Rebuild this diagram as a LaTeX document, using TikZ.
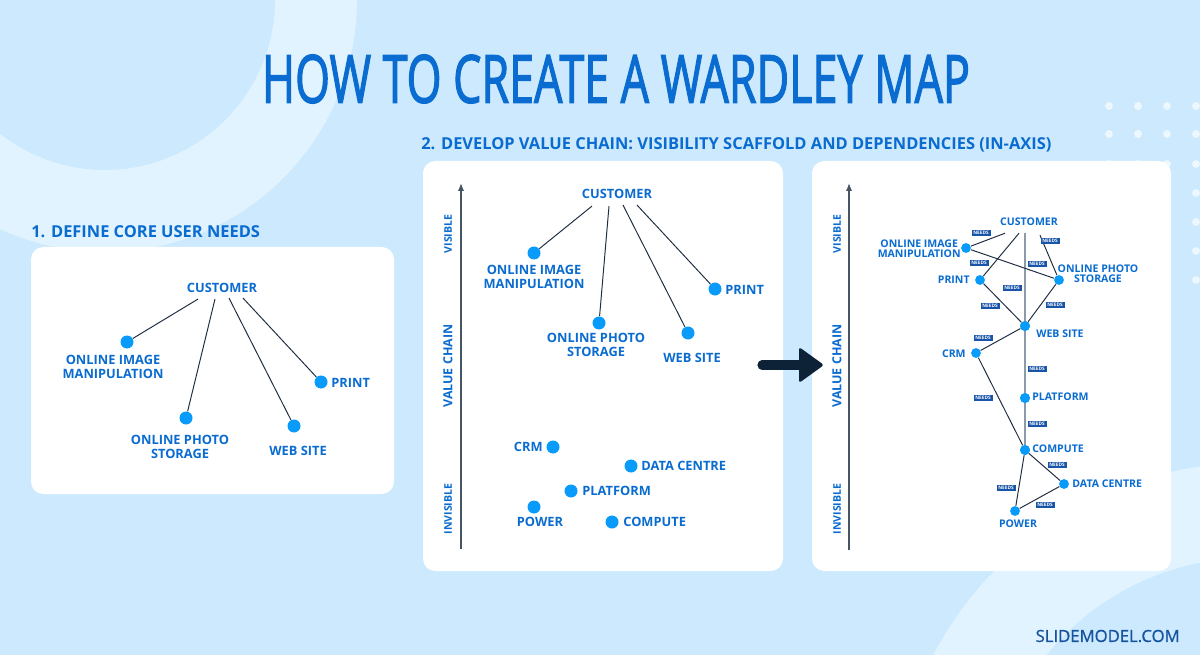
\documentclass[tikz,border=0pt]{standalone}
\usepackage{fontspec}
\setmainfont{Open Sans}
\newfontfamily\titlefont[FakeBold=2.2]{Open Sans}
\newfontfamily\sitefont[FakeBold=0.8]{Open Sans}
\usepackage{graphicx}
\usetikzlibrary{arrows.meta}

\definecolor{bgblue}{RGB}{204,233,253}
\definecolor{ringblue}{RGB}{225,243,254}
\definecolor{textblue}{RGB}{10,108,208}
\definecolor{dotblue}{RGB}{8,155,250}
\definecolor{linedark}{RGB}{30,45,65}
\definecolor{arrowdark}{RGB}{13,33,55}
\definecolor{needsblue}{RGB}{24,84,168}
\definecolor{axisgrey}{RGB}{70,85,100}
\definecolor{vgrey}{RGB}{140,155,170}
\definecolor{dotwhite}{RGB}{236,247,254}
\definecolor{siteblue}{RGB}{22,84,160}

\tikzset{
  dot/.style={circle, fill=dotblue, inner sep=0pt, minimum size=7.4pt},
  tinydot/.style={circle, fill=dotblue, inner sep=0pt, minimum size=5.6pt},
  lbl/.style={text=textblue, font=\bfseries\fontsize{7.3}{8}\selectfont, align=center, inner sep=0pt},
  tinylbl/.style={text=textblue, font=\bfseries\fontsize{6}{5.7}\selectfont, align=center, inner sep=0pt},
  axislbl/.style={text=textblue, font=\bfseries\fontsize{6}{6}\selectfont, rotate=90, inner sep=0pt},
  chainlbl/.style={axislbl, font=\bfseries\fontsize{7.1}{7}\selectfont},
  head/.style={text=textblue, font=\bfseries\fontsize{9.35}{10}\selectfont, inner sep=0pt, anchor=west},
  link/.style={draw=linedark, line width=0.55pt},
  inaxis/.style={draw=vgrey, line width=1.3pt},
  vaxis/.style={draw=axisgrey, line width=0.8pt, -{Latex[length=4.5pt,width=3.6pt]}},
  needs/.style={fill=needsblue, text=white,
    font=\bfseries\fontsize{2.7}{2.7}\selectfont, inner sep=0pt,
    minimum width=10.8pt, minimum height=3.8pt},
  panel/.style={fill=white, rounded corners=7pt},
}

\begin{document}
\begin{tikzpicture}[x=0.02cm, y=-0.02cm]
  \useasboundingbox (0,0) rectangle (1200,655);

  % Background with the two light rings
  \fill[bgblue] (0,0) rectangle (1200,655);
  \begin{scope}
    \clip (0,0) rectangle (1200,655);
    \fill[ringblue, even odd rule] (105,0) circle[radius=252] (105,0) circle[radius=170];
    \fill[ringblue, even odd rule] (1250,820) circle[radius=357] (1250,820) circle[radius=262];
  \end{scope}

  % Dot grid, top right
  \foreach \x in {1109,1138,1167,1196} {
    \foreach \y in {106,134,164,193,222,251,280} {
      \fill[dotwhite] (\x,\y) circle[radius=4];
    }
  }

  % Title and step headings
  \node[text=textblue, inner sep=0pt] (title) at (616,79)
    {\resizebox{14.16cm}{0.96cm}{\titlefont HOW TO CREATE A WARDLEY MAP}};
  \node[head] (head1) at (31,232) {1. DEFINE CORE USER NEEDS};
  \node[head] (head2) at (421,145) {2. DEVELOP VALUE CHAIN: VISIBILITY SCAFFOLD AND DEPENDENCIES (IN-AXIS)};

  % Panels
  \fill[panel] (31,247) rectangle (394,494);
  \fill[panel] (423,161) rectangle (783,571);
  \fill[panel] (812,161) rectangle (1171,571);

  % Step 1: core user needs
  \node[lbl] (cust1) at (222,288) {CUSTOMER};
  \node[dot] (oim1) at (127,342) {};
  \node[lbl] (oim1l) at (113,367) {ONLINE IMAGE\\MANIPULATION};
  \node[dot] (ops1) at (186,418) {};
  \node[lbl] (ops1l) at (180,447) {ONLINE PHOTO\\STORAGE};
  \node[dot] (web1) at (294,426) {};
  \node[lbl] (web1l) at (298,451) {WEB SITE};
  \node[dot] (prt1) at (321,382) {};
  \node[lbl, anchor=west] (prt1l) at (331,383) {PRINT};

  \draw[link] (cust1.south) ++(-24,6) -- (oim1);
  \draw[link] (cust1.south) ++(-7,6) -- (ops1);
  \draw[link] (cust1.south) ++(7,5) -- (web1);
  \draw[link] (cust1.south) ++(21,5) -- (prt1);

  % Step 2: value chain, components placed on the visibility axis
  \coordinate (ax2b) at (461,549);
  \coordinate (ax2t) at (461,183);
  \draw[vaxis] (ax2b) -- (ax2t);
  \node[axislbl] (vis2) at (448,234) {VISIBLE};
  \node[chainlbl] (chain2) at (448,366) {VALUE CHAIN};
  \node[axislbl] (invis2) at (448,509) {INVISIBLE};

  \node[lbl] (cust2) at (617,194) {CUSTOMER};
  \node[dot] (oim2) at (534,253) {};
  \node[lbl] (oim2l) at (534,277) {ONLINE IMAGE\\MANIPULATION};
  \node[dot] (prt2) at (715,289) {};
  \node[lbl, anchor=west] (prt2l) at (725,290) {PRINT};
  \node[dot] (ops2) at (599,323) {};
  \node[lbl] (ops2l) at (596,345) {ONLINE PHOTO\\STORAGE};
  \node[dot] (web2) at (688,333) {};
  \node[lbl] (web2l) at (692,358) {WEB SITE};
  \node[dot] (crm2) at (553,447) {};
  \node[lbl, anchor=east] (crm2l) at (543,447) {CRM};
  \node[dot] (dc2) at (631,466) {};
  \node[lbl, anchor=west] (dc2l) at (641,466) {DATA CENTRE};
  \node[dot] (plat2) at (571,491) {};
  \node[lbl, anchor=west] (plat2l) at (582,491) {PLATFORM};
  \node[dot] (pow2) at (534,507) {};
  \node[lbl] (pow2l) at (540,522) {POWER};
  \node[dot] (comp2) at (612,522) {};
  \node[lbl, anchor=west] (comp2l) at (623,522) {COMPUTE};

  \draw[link] (cust2.south) ++(-25,7) -- (oim2);
  \draw[link] (cust2.south) ++(-8,7) -- (ops2);
  \draw[link] (cust2.south) ++(6,6) -- (web2);
  \draw[link] (cust2.south) ++(20,6) -- (prt2);

  % Arrow between the two maps
  \draw[arrowdark, line width=5.2pt, line cap=round] (762,365) -- (802,365);
  \fill[arrowdark, rounded corners=1.5pt] (799,347) -- (824,365) -- (799,383) -- cycle;

  % Step 2: dependencies
  \coordinate (ax3b) at (849,550);
  \coordinate (ax3t) at (849,183);
  \draw[vaxis] (ax3b) -- (ax3t);
  \node[axislbl] (vis3) at (837,234) {VISIBLE};
  \node[chainlbl] (chain3) at (837,366) {VALUE CHAIN};
  \node[axislbl] (invis3) at (837,509) {INVISIBLE};

  \node[tinylbl] (cust3) at (1029,222) {CUSTOMER};
  \node[tinydot] (oim3) at (966,248) {};
  \node[tinylbl, anchor=east] (oim3l) at (961,249) {ONLINE IMAGE\\MANIPULATION};
  \node[tinydot] (prt3) at (980,280) {};
  \node[tinylbl, anchor=east] (prt3l) at (970,280) {PRINT};
  \node[tinydot] (ops3) at (1059,280) {};
  \node[tinylbl] (ops3l) at (1098,274) {ONLINE PHOTO\\STORAGE};
  \node[tinydot] (web3) at (1025,326) {};
  \node[tinylbl, anchor=west] (web3l) at (1036,334) {WEB SITE};
  \node[tinydot] (crm3) at (976,353) {};
  \node[tinylbl, anchor=east] (crm3l) at (966,354) {CRM};
  \node[tinydot] (plat3) at (1025,398) {};
  \node[tinylbl, anchor=west] (plat3l) at (1032,397) {PLATFORM};
  \node[tinydot] (comp3) at (1025,450) {};
  \node[tinylbl, anchor=west] (comp3l) at (1032,449) {COMPUTE};
  \node[tinydot] (dc3) at (1064,484) {};
  \node[tinylbl, anchor=west] (dc3l) at (1072,484) {DATA CENTRE};
  \node[tinydot] (pow3) at (1015,511) {};
  \node[tinylbl] (pow3l) at (1018,524) {POWER};

  \draw[inaxis] (cust3.south) ++(-4,7) -- (comp3.center);
  \draw[link] (cust3.south) ++(-24,7) -- (oim3);
  \draw[link] (cust3.south) ++(-10,7) -- (prt3);
  \draw[link] (cust3.south) ++(11,9) -- (ops3);
  \draw[link] (oim3) -- (ops3);
  \draw[link] (prt3) -- (web3);
  \draw[link] (ops3) -- (web3);
  \draw[link] (web3) -- (crm3);
  \draw[link] (crm3) -- (comp3);
  \draw[link] (comp3) -- (dc3);
  \draw[link] (comp3) -- (pow3);
  \draw[link] (pow3) -- (dc3);
  % redraw dots over the grey in-axis line
  \foreach \n in {web3,plat3,comp3} {
    \fill[dotblue] (\n) circle[radius=5];
  }

  \node[needs] (n1) at (981,233) {NEEDS};
  \node[needs] (n2) at (1050,241) {NEEDS};
  \node[needs] (n3) at (979,263) {NEEDS};
  \node[needs] (n4) at (1037,264) {NEEDS};
  \node[needs] (n5) at (1012,288) {NEEDS};
  \node[needs] (n6) at (990,306) {NEEDS};
  \node[needs] (n7) at (1055,305) {NEEDS};
  \node[needs] (n8) at (983,338) {NEEDS};
  \node[needs] (n9) at (1037,369) {NEEDS};
  \node[needs] (n10) at (983,398) {NEEDS};
  \node[needs] (n11) at (1037,424) {NEEDS};
  \node[needs] (n12) at (1057,465) {NEEDS};
  \node[needs] (n13) at (1006,488) {NEEDS};
  \node[needs] (n14) at (1045,505) {NEEDS};

  \node[text=siteblue, font=\sitefont\fontsize{9.5}{10}\selectfont, inner sep=0pt, anchor=east] (site) at (1180,636) {SLIDEMODEL.COM};
\end{tikzpicture}
\end{document}
